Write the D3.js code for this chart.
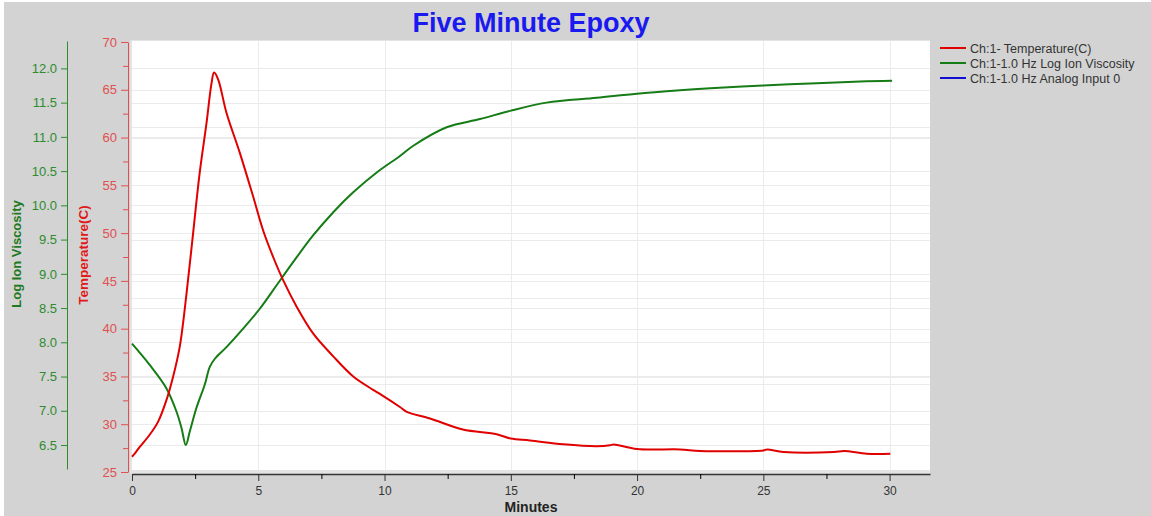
<!DOCTYPE html>
<html>
<head>
<meta charset="utf-8">
<script src="https://cdn.jsdelivr.net/npm/d3@7"></script>
<style>
  html, body { margin: 0; padding: 0; background: #fff; }
  svg { display: block; font-family: "Liberation Sans", Arial, sans-serif; }
</style>
</head>
<body>
<svg id="root" width="1151" height="516"></svg>
<script>
// values
const tempMinutes = [0, 0.1, 0.3, 0.7, 1.03, 1.36, 1.63, 1.89, 2.16, 2.42, 2.68, 2.95, 3.15, 3.25, 3.41, 3.74,
  4.27, 4.8, 5.19, 5.59, 5.98, 6.52, 7.17, 7.97, 8.76, 9.55, 9.83, 10.61, 10.88, 11.8, 13.1, 14.44, 15.0,
  15.76, 17.08, 18.4, 18.93, 19.07, 20.0, 21.7, 22.5, 25.0, 25.15, 25.8, 27.8, 28.2, 29.1, 30.03];
const tempValues = [26.6, 26.9, 27.6, 28.9, 30.25, 32.5, 35.0, 38.1, 43.7, 50.0, 56.3, 61.5, 65.7, 66.8, 66.1, 62.6,
  58.4, 53.8, 50.3, 47.5, 45.1, 42.3, 39.5, 37.1, 35.0, 33.6, 33.15, 31.8, 31.3, 30.6, 29.45, 28.96, 28.5,
  28.3, 27.9, 27.7, 27.8, 27.88, 27.4, 27.36, 27.2, 27.25, 27.36, 27.1, 27.1, 27.2, 26.9, 26.9];

const viscMinutes = [0, 0.7, 1.36, 1.76, 1.96, 2.13, 2.29, 2.55, 2.88, 3.08, 3.28, 3.74, 4.4, 5.06, 5.72, 6.38,
  7.17, 7.97, 8.76, 9.69, 10.61, 11.14, 12.46, 13.78, 14.97, 16.42, 18.4, 19.99, 21.7, 22.9, 25.0, 26.86, 28.84, 30.1];
const viscValues = [7.98, 7.67, 7.33, 6.99, 6.75, 6.50, 6.70, 7.04, 7.38, 7.64, 7.76, 7.93, 8.20, 8.49, 8.83, 9.17,
  9.56, 9.90, 10.19, 10.48, 10.72, 10.87, 11.14, 11.26, 11.38, 11.50, 11.57, 11.63, 11.68, 11.71, 11.75, 11.78, 11.81, 11.82];

const minuteTicks = [0, 5, 10, 15, 20, 25, 30];
const minuteMinorTicks = [2.5, 7.5, 12.5, 17.5, 22.5, 27.5];
const tempTicks = [25, 30, 35, 40, 45, 50, 55, 60, 65, 70];
const tempMinorTicks = [27.5, 32.5, 37.5, 42.5, 47.5, 52.5, 57.5, 62.5, 67.5];
const viscTicks = [6.5, 7.0, 7.5, 8.0, 8.5, 9.0, 9.5, 10.0, 10.5, 11.0, 11.5, 12.0];
const analogTicks = [0, 1, 2, 3, 4, 5]; // hidden axis, only its grid shows

const legendLabels = ['Ch:1- Temperature(C)', 'Ch:1-1.0 Hz Log Ion Viscosity', 'Ch:1-1.0 Hz Analog Input 0'];
const legendColors = ['#e00000', '#167c16', '#1010d0'];

const plot = { left: 132, right: 930, top: 41, bottom: 470 };

const x = d3.scaleLinear().domain([0, 31.6]).range([plot.left, plot.right]);
const yTemp = d3.scaleLinear().domain([25, 70]).range([472, 42]);
const yVisc = d3.scaleLinear().domain([6.15, 12.4]).range([469, 41]);
const yAnalog = d3.scaleLinear().domain([0, 5]).range([469, 42]);

const svg = d3.select('#root');

svg.append('rect').attr('x', 4).attr('y', 2).attr('width', 1147).attr('height', 514).attr('fill', '#d3d3d3');

// plot background
svg.append('rect')
  .attr('x', plot.left - 2).attr('y', plot.top - 1)
  .attr('width', plot.right - plot.left + 2).attr('height', 474 - plot.top + 1)
  .attr('fill', '#e4e4e4');
svg.append('rect')
  .attr('x', plot.left).attr('y', plot.top)
  .attr('width', plot.right - plot.left).attr('height', plot.bottom - plot.top)
  .attr('fill', '#fff');

// grid
const grid = svg.append('g').attr('stroke', '#ebebeb').attr('stroke-width', 1);
const hLines = [].concat(
  tempTicks.map(d => yTemp(d)),
  viscTicks.map(d => yVisc(d)),
  analogTicks.map(d => yAnalog(d))
).filter(y => y > plot.top + 1 && y < plot.bottom - 1);
grid.selectAll('line.h').data(hLines).enter().append('line')
  .attr('class', 'h')
  .attr('x1', plot.left).attr('x2', plot.right)
  .attr('y1', d => Math.round(d) + 0.5).attr('y2', d => Math.round(d) + 0.5);
grid.selectAll('line.v').data(minuteTicks.filter(d => d > 0)).enter().append('line')
  .attr('class', 'v')
  .attr('x1', d => Math.round(x(d)) + 0.5).attr('x2', d => Math.round(x(d)) + 0.5)
  .attr('y1', plot.top).attr('y2', plot.bottom);

// series
const lineOf = (xs, ys, yScale) => d3.line()
  .x((d, i) => x(xs[i]))
  .y(d => yScale(d))
  .curve(d3.curveCatmullRom.alpha(0.5))(ys);

svg.append('path')
  .attr('d', lineOf(viscMinutes, viscValues, yVisc))
  .attr('fill', 'none').attr('stroke', '#167c16').attr('stroke-width', 2);
svg.append('path')
  .attr('d', lineOf(tempMinutes, tempValues, yTemp))
  .attr('fill', 'none').attr('stroke', '#e00000').attr('stroke-width', 2);

// x axis
const xAxis = svg.append('g')
  .attr('transform', 'translate(0,474)')
  .call(d3.axisBottom(x).tickValues(minuteTicks).tickSize(7).tickSizeOuter(0).tickPadding(5));
svg.append('g')
  .attr('transform', 'translate(0,474)')
  .call(d3.axisBottom(x).tickValues(minuteMinorTicks).tickSize(5).tickFormat(''))
  .call(g => g.select('.domain').remove());
xAxis.selectAll('text').attr('font-size', 12).attr('fill', '#333').attr('font-family', 'Liberation Sans, Arial');
xAxis.select('.domain').attr('stroke', '#333').attr('stroke-width', 1.5);
xAxis.selectAll('.tick line').attr('stroke', '#333');

svg.append('text')
  .attr('x', (plot.left + plot.right) / 2).attr('y', 512)
  .attr('text-anchor', 'middle')
  .attr('font-size', 14).attr('font-weight', 'bold').attr('fill', '#222')
  .text('Minutes');

// temperature axis
const tempColor = '#e05050';
const tempAxis = svg.append('g')
  .attr('transform', 'translate(128,0)')
  .call(d3.axisLeft(yTemp).tickValues(tempTicks).tickSize(7).tickSizeOuter(0).tickPadding(4).tickFormat(d3.format('d')));
svg.append('g')
  .attr('transform', 'translate(128,0)')
  .call(d3.axisLeft(yTemp).tickValues(tempMinorTicks).tickSize(5).tickFormat(''))
  .call(g => g.select('.domain').remove())
  .selectAll('line').attr('stroke', tempColor);
tempAxis.select('.domain').attr('stroke', tempColor);
tempAxis.selectAll('.tick line').attr('stroke', tempColor);
tempAxis.selectAll('text').attr('font-size', 13).attr('fill', tempColor).attr('font-family', 'Liberation Sans, Arial');

svg.append('text')
  .attr('transform', 'translate(88,255) rotate(-90)')
  .attr('text-anchor', 'middle')
  .attr('font-size', 13.5).attr('font-weight', 'bold').attr('fill', '#e01818')
  .text('Temperature(C)');

// viscosity axis
const viscColor = '#2e8b2e';
const viscAxis = svg.append('g')
  .attr('transform', 'translate(67,0)')
  .call(d3.axisLeft(yVisc).tickValues(viscTicks).tickSize(6).tickSizeOuter(0).tickPadding(4).tickFormat(d3.format('.1f')));
viscAxis.select('.domain').attr('stroke', viscColor);
viscAxis.selectAll('.tick line').attr('stroke', viscColor);
viscAxis.selectAll('text').attr('font-size', 13).attr('fill', viscColor).attr('font-family', 'Liberation Sans, Arial');

svg.append('text')
  .attr('transform', 'translate(21,254) rotate(-90)')
  .attr('text-anchor', 'middle')
  .attr('font-size', 13).attr('font-weight', 'bold').attr('fill', '#1e7a1e')
  .text('Log Ion Viscosity');

// title
svg.append('text')
  .attr('x', 531).attr('y', 32)
  .attr('text-anchor', 'middle')
  .attr('font-size', 27).attr('font-weight', 'bold').attr('fill', '#1a1af0')
  .text('Five Minute Epoxy');

// legend
const legend = svg.append('g').attr('transform', 'translate(940,48)');
const item = legend.selectAll('g').data(legendLabels).enter().append('g')
  .attr('transform', (d, i) => `translate(0,${i * 15})`);
item.append('line')
  .attr('x1', 0).attr('x2', 26).attr('y1', 0).attr('y2', 0)
  .attr('stroke', (d, i) => legendColors[i]).attr('stroke-width', 2);
item.append('text')
  .attr('x', 30).attr('y', 4.5)
  .attr('font-size', 12.5).attr('fill', '#333')
  .text(d => d);
</script>
</body>
</html>
